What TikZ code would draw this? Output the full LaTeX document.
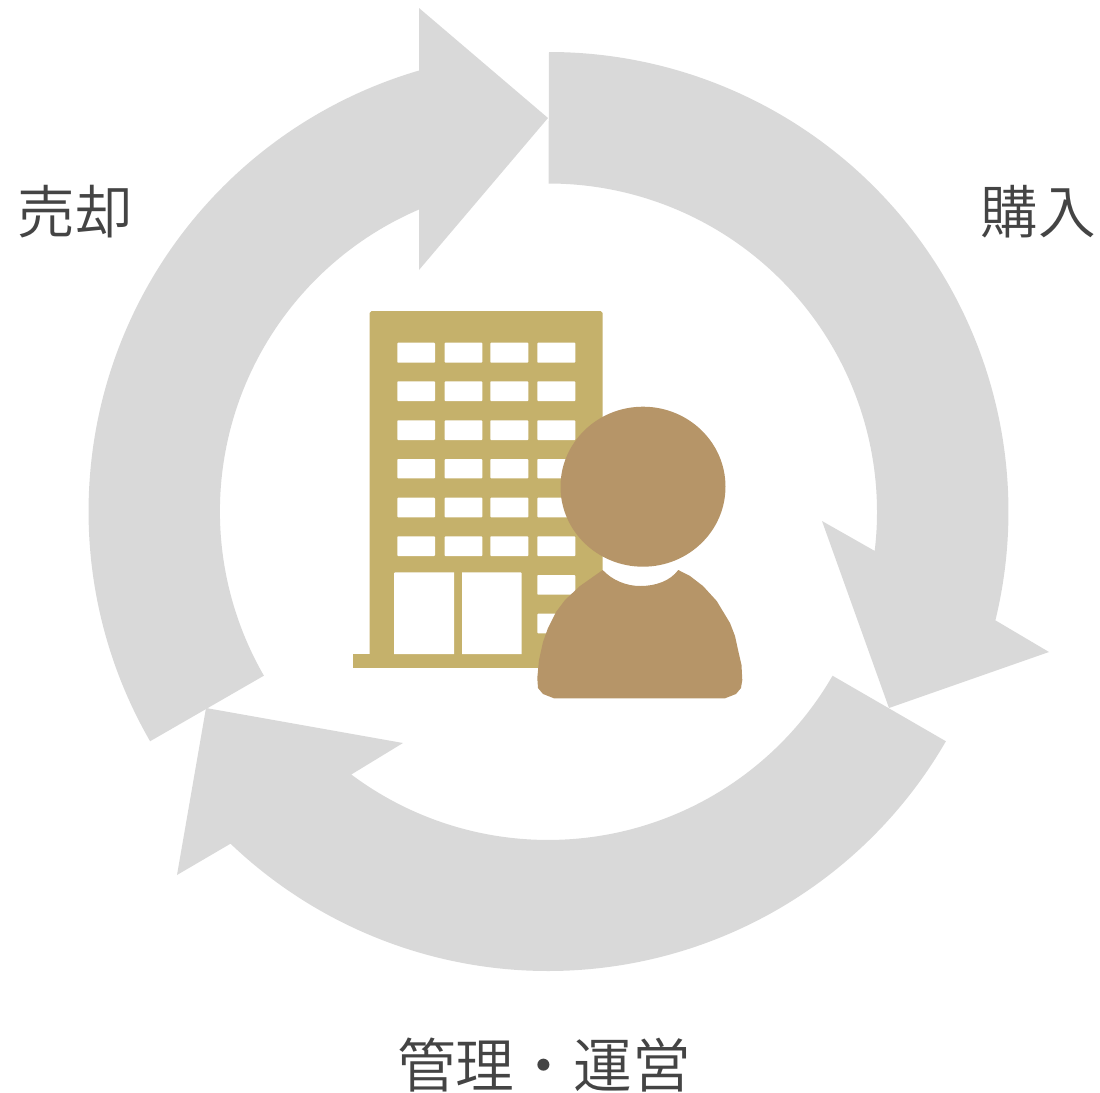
\documentclass[tikz,border=0pt]{standalone}
\usepackage{fontspec}
\newfontfamily\jpfont{Noto Sans CJK JP DemiLight}
\definecolor{ringgray}{HTML}{D9D9D9}
\definecolor{bldg}{HTML}{C5B16B}
\definecolor{person}{HTML}{B69568}
\definecolor{labeltext}{HTML}{444444}
\tikzset{
  ring/.style={fill=ringgray,draw=none},
  opening/.style={fill=white,draw=none,rounded corners=0.4pt},
  lab/.style={font=\jpfont\fontsize{28.8}{30}\selectfont,text=labeltext,inner sep=0pt,anchor=center},
  labwide/.style={lab,font=\jpfont\fontsize{29.4}{30}\selectfont}
}
\begin{document}
\begin{tikzpicture}[x=0.5pt,y=-0.5pt]
\useasboundingbox (0,0) rectangle (1100,1093);
% ring arrows
\fill[ring] (549,52) arc[start angle=-90,end angle=13.7,radius=459.5] -- (1049,652) -- (889,708) -- (822,521) -- (874.7,550.9) arc[start angle=6.8,end angle=-90,radius=328.5] -- cycle;
\fill[ring] (945.9,741.25) arc[start angle=30,end angle=133.7,radius=459.5] -- (177,875) -- (206,708) -- (403,743) -- (351.3,774.5) arc[start angle=126.8,end angle=30,radius=328.5] -- cycle;
\fill[ring] (150.1,741.25) arc[start angle=150,end angle=253.7,radius=459.5] -- (419,8) -- (548,118) -- (419,270) -- (419,209.5) arc[start angle=246.8,end angle=150,radius=328.5] -- cycle;
% building
\fill[bldg] (369.5,654) -- (369.5,313) -- (371.5,311) -- (600.6,311) -- (602.6,313) -- (602.6,654) -- cycle;
\fill[bldg] (352.7,654) rectangle (602.6,668);
\foreach \r/\s in {342.7/362.7,381.3/401,420.3/440,459/478.3,497.7/517.3,536.3/556}{
  \foreach \c/\d in {397.3/435,444.7/482.3,490.3/528.3,537.3/575.3}{
    \fill[opening] (\c,\r) rectangle (\d,\s);
  }
}
\foreach \r/\s in {575/594.7,613.7/633.3}{
  \fill[opening] (537.3,\r) rectangle (575.3,\s);
}
\fill[white] (394,654) -- (394,573.3) -- (395,572.3) -- (454,572.3) -- (454,654) -- cycle;
\fill[white] (462,654) -- (462,572.3) -- (520.7,572.3) -- (521.7,573.3) -- (521.7,654) -- cycle;
% person
\fill[person] (643,486.7) ellipse [x radius=82.5,y radius=80];
\fill[person] (602.7,570) .. controls (612,580) and (626,586) .. (640,586)
  .. controls (656,586) and (670,581) .. (678.3,570)
  -- (690,576) -- (703,586) -- (716.7,601) -- (730,623) -- (735,636) -- (738.5,652) -- (741.5,665) -- (742.3,680)
  -- (741,688) -- (736,694) -- (725,698.3)
  -- (554,698.3) -- (543,694) -- (538,688) -- (537.3,678)
  -- (539,660) -- (543,642) -- (548,628) -- (556,612) -- (565,600) -- (580,586) -- cycle;
% labels
\node[lab] (sell) at (75,212) {売却};
\node[lab] (buy) at (1038,212) {購入};
\node[labwide] (manage) at (544,1065) {管理・運営};
\end{tikzpicture}
\end{document}
